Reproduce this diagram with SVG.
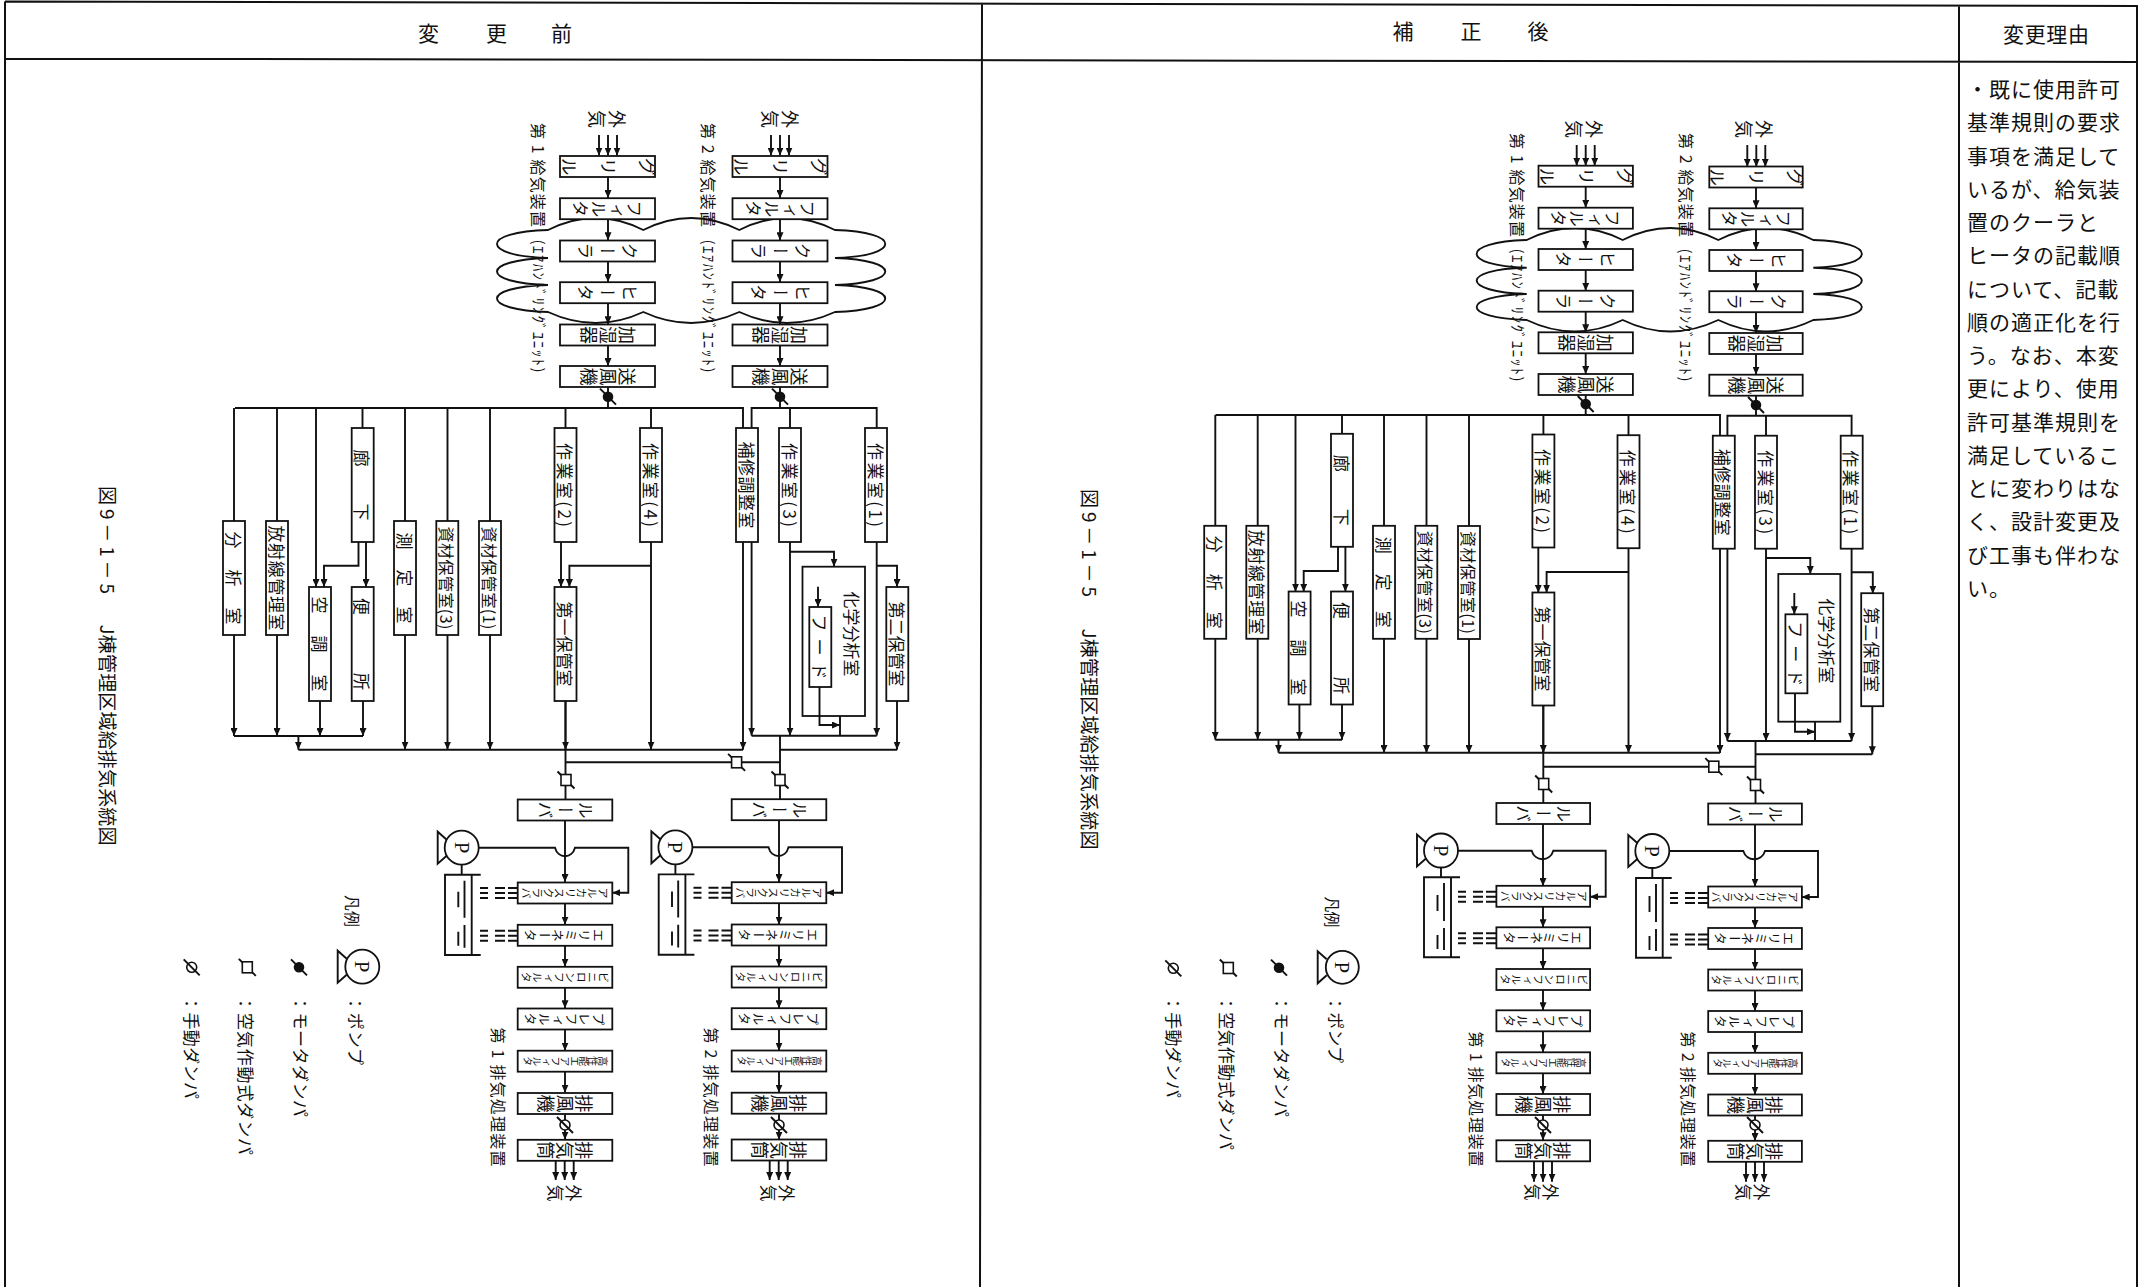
<svg xmlns="http://www.w3.org/2000/svg" width="2149" height="1287" viewBox="0 0 2149 1287">
<style>
text{font-family:"Noto Sans CJK JP","Noto Sans",sans-serif;fill:#111;dominant-baseline:central;text-anchor:middle}
.v{writing-mode:vertical-rl;dominant-baseline:auto}
.s{text-anchor:start}
.b{fill:#fff;stroke:#111;stroke-width:1.8}
.o{fill:none;stroke:#111;stroke-width:1.8}
.l,.a{fill:none;stroke:#111;stroke-width:1.9}
.a{marker-end:url(#ah)}
.f{fill:none;stroke:#111;stroke-width:2}
.t10{font-size:10px}.t11{font-size:11px}.t13{font-size:13px}.t15{font-size:15px}.t16{font-size:16px}.t17{font-size:17px}.t18{font-size:18px}.t19{font-size:19px}.t21{font-size:21px}
.p{font-family:"Liberation Serif",serif;font-size:21px}
.d{fill:none;stroke:#111;stroke-width:2}
.k{fill:#fff;stroke:#111;stroke-width:1.6}
.n{fill:#111;stroke:#111;stroke-width:1.6}
</style>
<defs>
<marker id="ah" markerUnits="userSpaceOnUse" markerWidth="8" markerHeight="7" refX="8" refY="3.5" orient="auto"><path d="M0 0L8 3.5L0 7z" fill="#111"/></marker>
<path id="dd" class="d" d="M0 0h8m7 0h10m3 0h10M0 5h8m7 0h10m3 0h10M0 10h8m7 0h10m3 0h10"/>
<g id="hd"><circle class="k" r="5"/><path class="l" d="M-8-8L8 8"/></g>
<g id="md"><circle class="n" r="4.5"/><path class="l" d="M-8-8L8 8"/></g>
<g id="ad"><path class="l" d="M-8.500-8.500L8.500 8.500"/><rect class="k" x="-5" y="-5.500" width="10" height="11"/></g>
<path id="pt" class="l" d="M9 -8L0 -16V16L9 8"/>
</defs>
<rect width="2149" height="1287" fill="#fff"/>

<g id="frame">
<path class="f" d="M5 1.500L2137 6V1287M5 1.500V1287M982 3L980 1287M1959 5V1287M5 58.700L2137 62"/>
<text class="t21" x="428.500" y="32">変</text><text class="t21" x="496.500" y="32">更</text><text class="t21" x="561.500" y="32">前</text>
<text class="t21" x="1403" y="30">補</text><text class="t21" x="1471" y="30">正</text><text class="t21" x="1538" y="30">後</text>
<text class="t21" x="2046" y="33" textLength="86">変更理由</text>
</g>

<g id="reason" font-size="21">
<text class="s t21" letter-spacing="1" x="1967" y="88">・既に使用許可</text>
<text class="s t21" letter-spacing="1" x="1967" y="121">基準規則の要求</text>
<text class="s t21" letter-spacing="1" x="1967" y="154.500">事項を満足して</text>
<text class="s t21" letter-spacing="1" x="1967" y="188">いるが、給気装</text>
<text class="s t21" letter-spacing="1" x="1967" y="221">置のクーラと</text>
<text class="s t21" letter-spacing="1" x="1967" y="254">ヒータの記載順</text>
<text class="s t21" letter-spacing="1" x="1967" y="287.500">について、記載</text>
<text class="s t21" letter-spacing="1" x="1967" y="321">順の適正化を行</text>
<text class="s t21" letter-spacing="1" x="1967" y="354">う。なお、本変</text>
<text class="s t21" letter-spacing="1" x="1967" y="387">更により、使用</text>
<text class="s t21" letter-spacing="1" x="1967" y="420.500">許可基準規則を</text>
<text class="s t21" letter-spacing="1" x="1967" y="454">満足しているこ</text>
<text class="s t21" letter-spacing="1" x="1967" y="487">とに変わりはな</text>
<text class="s t21" letter-spacing="1" x="1967" y="520">く、設計変更及</text>
<text class="s t21" letter-spacing="1" x="1967" y="553.500">び工事も伴わな</text>
<text class="s t21" letter-spacing="1" x="1967" y="587">い。</text>
</g>

<g id="clouds">
<path class="l" d="M548 230Q596 206 643.300 230Q691 206 739.300 230Q787 206 835 230C902 232 902 256 835 258C902 260 902 283 835 285C902 287 902 310 835 312Q787 334 739.300 312Q691 334 643.300 312Q596 334 548 312C480 310 480 287 548 285C480 283 480 260 548 258C480 256 480 232 548 230Z"/>
<path class="l" d="M1526.700 240Q1575 216 1622.700 240Q1670 216 1718.300 240Q1766 216 1813.300 240C1878 242 1878 266 1813.300 267.700C1878 269 1878 292 1813.300 294C1878 296 1878 318 1813.300 320Q1766 343 1718.300 320Q1670 343 1622.700 320Q1575 343 1526.700 320C1460 318 1460 296 1526.700 294C1460 292 1460 269 1526.700 267.700C1460 266 1460 242 1526.700 240Z"/>
</g>

<g id="connectors">
<!-- panel 1 supply -->
<path class="a" d="M599 135V155.500"/><path class="a" d="M608 135V155.500"/><path class="a" d="M617 135V155.500"/>
<path class="a" d="M771 135V155.500"/><path class="a" d="M780 135V155.500"/><path class="a" d="M789 135V155.500"/>
<path class="a" d="M608 177V198"/><path class="a" d="M608 219V240.300"/><path class="a" d="M608 261.500V282"/><path class="a" d="M608 303V324.300"/><path class="a" d="M608 345.500V366"/>
<path class="a" d="M780 177V198"/><path class="a" d="M780 219V240.300"/><path class="a" d="M780 261.500V282"/><path class="a" d="M780 303V324.300"/><path class="a" d="M780 345.500V366"/>
<path class="l" d="M608 387V408M780 387V408M235 408H743V428M751.600 428V408H876.700V428M234 408V521M277 408V521M362.500 408V428M405 408V521M447.500 408V521M490 408V521M565.500 408V428M651 408V428M790 408V428"/>
<path class="a" d="M316 408V587"/>
<path class="a" d="M234 635V736"/><path class="a" d="M277 635V736"/><path class="a" d="M320 701V736"/><path class="a" d="M363 701V736"/>
<path class="l" d="M234 736H363M298.400 749.700H743M780 749.700H897M751.600 735.700H876.700M780 735.700V799M565.500 701V799M565.500 762.300H780M840 716V735.700"/>
<path class="a" d="M298.400 736V749.700"/>
<path class="a" d="M405 635V749.700"/><path class="a" d="M447.500 635V749.700"/><path class="a" d="M490 635V749.700"/><path class="a" d="M651 542V749.700"/><path class="a" d="M743 542V749.700"/><path class="a" d="M565.500 701V749.700"/><path class="a" d="M897 701V749.700"/>
<path class="a" d="M751.600 542V735.700"/><path class="a" d="M790 542V735.700"/><path class="a" d="M876.700 542V735.700"/>
<path class="a" d="M819.500 687V725H840"/><path class="a" d="M790 551.700H834V566.700"/><path class="a" d="M818 586.700V607"/><path class="a" d="M876.700 565.700H897V587"/>
<path class="a" d="M358.500 542V565.700H324V587"/><path class="a" d="M366 542V587"/><path class="a" d="M561 542V587"/><path class="a" d="M651 565.700H569.400V587"/>
<path class="a" d="M565 820V882"/><path class="a" d="M565 904V924.700"/><path class="a" d="M565 946V966.700"/><path class="a" d="M565 988V1008.300"/><path class="a" d="M565 1029.700V1050.700"/><path class="a" d="M565 1071.700V1092.700"/><path class="a" d="M565 1114.300V1139.700"/>
<path class="a" d="M779 820V882"/><path class="a" d="M779 904V924.700"/><path class="a" d="M779 946V966.700"/><path class="a" d="M779 988V1008.300"/><path class="a" d="M779 1029.700V1050.700"/><path class="a" d="M779 1071.700V1092.700"/><path class="a" d="M779 1114.300V1139.700"/>
<path class="a" d="M555.700 1161V1180"/><path class="a" d="M564.700 1161V1180"/><path class="a" d="M573.700 1161V1180"/>
<path class="a" d="M769.700 1161V1180"/><path class="a" d="M778.700 1161V1180"/><path class="a" d="M787.700 1161V1180"/>
<path class="a" d="M478.700 847.700H555C558 859 572 859 575 847.700H628.300V892.700H612.300"/>
<path class="a" d="M692.300 847.300H768.500C771.500 859 785.500 859 788.500 847.300H842V892.700H826.300"/>
<path class="l" d="M461.700 864.700V874.700M480.700 874.700H445V955H480.700M471.700 874.700V955M464.500 880.700V917.700M458.300 891.700V907.300M464.500 925V947.700M458.300 931.700V945.700"/>
<path class="l" d="M675.400 864.700V874.400M694.400 874.400H658.700V954.700H694.400M685.400 874.400V954.700M678.200 880.400V917.400M672 891.400V907M678.200 924.700V947.400M672 931.400V945.400"/>
<use href="#dd" x="480" y="888"/><use href="#dd" x="480" y="930.700"/><use href="#dd" x="693.500" y="887.700"/><use href="#dd" x="693.500" y="930.400"/>
<use href="#md" x="608" y="396.700"/><use href="#md" x="780" y="396.700"/>
<use href="#ad" x="736.600" y="762.300"/><use href="#ad" x="566" y="780"/><use href="#ad" x="780" y="780"/>
<use href="#hd" x="565" y="1125"/><use href="#hd" x="779" y="1125"/>
<!-- panel 2 supply -->
<path class="a" d="M1576.700 145V165.700"/><path class="a" d="M1585.700 145V165.700"/><path class="a" d="M1594.700 145V165.700"/>
<path class="a" d="M1747.300 145V166.700"/><path class="a" d="M1756.300 145V166.700"/><path class="a" d="M1765.300 145V166.700"/>
<path class="a" d="M1585.700 186.700V207.700"/><path class="a" d="M1585.700 228.700V249"/><path class="a" d="M1585.700 270V290.700"/><path class="a" d="M1585.700 311.700V332.300"/><path class="a" d="M1585.700 353.300V374"/>
<path class="a" d="M1756 187.500V208.300"/><path class="a" d="M1756 229.300V250"/><path class="a" d="M1756 271V291.300"/><path class="a" d="M1756 312.200V333"/><path class="a" d="M1756 354V374.700"/>
<path class="l" d="M1585.700 395V415M1756 395.700V415.700M1215.500 415H1720V436M1727.400 436V415.700H1851.600V436M1215.300 415V526M1257.700 415V526M1342 415V434M1384 415V526M1426.500 415V526M1469 415V526M1543.400 415V435M1628.500 415V435.700M1766 415.700V436"/>
<path class="a" d="M1295.500 415V591.700"/>
<path class="a" d="M1215.300 638.700V739.700"/><path class="a" d="M1257.700 638.700V739.700"/><path class="a" d="M1299.400 704.300V739.700"/><path class="a" d="M1342 704.300V739.700"/>
<path class="l" d="M1215.300 739.700H1342M1278.500 752.700H1720M1755.500 754.300H1872.300M1727.400 741H1851.600M1755.500 741V803M1543.300 705V803M1543.300 766.700H1755.500M1815 721.700V741"/>
<path class="a" d="M1278.500 739.700V752.700"/>
<path class="a" d="M1384 638.700V753"/><path class="a" d="M1426.500 638.700V753"/><path class="a" d="M1469 638.700V753"/><path class="a" d="M1628.500 547.700V753"/><path class="a" d="M1720 548V753"/><path class="a" d="M1543.300 705V753"/><path class="a" d="M1872.300 705.700V754.300"/>
<path class="a" d="M1727.400 548V741"/><path class="a" d="M1766 548V741"/><path class="a" d="M1851.600 548V741"/>
<path class="a" d="M1795 693.300V731.700H1815"/><path class="a" d="M1766 558H1810.300V574"/><path class="a" d="M1794.300 593V614.300"/><path class="a" d="M1851.600 572.300H1872.800V593.700"/>
<path class="a" d="M1338 546.300V571H1303.700V591.700"/><path class="a" d="M1345.400 546.300V591.700"/><path class="a" d="M1538.300 547V592.700"/><path class="a" d="M1628.500 572H1546.600V592.700"/>
<path class="a" d="M1543 824V886"/><path class="a" d="M1543 906.700V927.300"/><path class="a" d="M1543 948.300V969"/><path class="a" d="M1543 990V1010.300"/><path class="a" d="M1543 1031.300V1052.300"/><path class="a" d="M1543 1073.300V1094"/><path class="a" d="M1543 1115V1140.300"/>
<path class="a" d="M1755 824.500V886.700"/><path class="a" d="M1755 907.500V928"/><path class="a" d="M1755 949V969.700"/><path class="a" d="M1755 990.700V1011"/><path class="a" d="M1755 1032V1053"/><path class="a" d="M1755 1074V1094.500"/><path class="a" d="M1755 1115.500V1141"/>
<path class="a" d="M1534 1161.300V1181.700"/><path class="a" d="M1543 1161.300V1181.700"/><path class="a" d="M1552 1161.300V1181.700"/>
<path class="a" d="M1746 1161.800V1181.700"/><path class="a" d="M1755 1161.800V1181.700"/><path class="a" d="M1764 1161.800V1181.700"/>
<path class="a" d="M1457.700 850.700H1531.700C1535 862 1550 862 1553.300 850.700H1605.700V896.700H1590"/>
<path class="a" d="M1669 851H1743.300C1746.500 862 1761.800 862 1765 851H1818V897H1801.700"/>
<path class="l" d="M1441 867V877.300M1460 877.300H1424V957.300H1460M1451 877.300V957.300M1444 883V921M1437.500 895V911M1444 928V950M1437.500 935V949"/>
<path class="l" d="M1652.300 867.300V878M1671.700 878H1636V957.700H1671.700M1662.700 878V957.700M1656 884V922M1649.500 896V912M1656 929V951M1649.500 936V950"/>
<use href="#dd" x="1458" y="891.700"/><use href="#dd" x="1458" y="933.300"/><use href="#dd" x="1670" y="893"/><use href="#dd" x="1670" y="934.500"/>
<use href="#md" x="1585.700" y="404"/><use href="#md" x="1756" y="405"/>
<use href="#ad" x="1713.800" y="766.700"/><use href="#ad" x="1543.700" y="784"/><use href="#ad" x="1755.500" y="785"/>
<use href="#hd" x="1543" y="1125"/><use href="#hd" x="1755" y="1125"/>
</g>

<g id="pumps">
<g transform="translate(461.700,847.700)"><use href="#pt" x="-24"/><circle class="b" r="17"/><text class="p" transform="rotate(90)">P</text></g>
<g transform="translate(675.400,847.300)"><use href="#pt" x="-24"/><circle class="b" r="17"/><text class="p" transform="rotate(90)">P</text></g>
<g transform="translate(1441,850.500)"><use href="#pt" x="-24"/><circle class="b" r="17"/><text class="p" transform="rotate(90)">P</text></g>
<g transform="translate(1652.300,851)"><use href="#pt" x="-24"/><circle class="b" r="17"/><text class="p" transform="rotate(90)">P</text></g>
</g>

<g id="panel1-supply">
<g id="a1"><text class="v t18" transform="translate(607,119) rotate(90)" y="-10 10">外気</text></g>
<g id="a2"><text class="v t18" transform="translate(780,119) rotate(90)" y="-10 10">外気</text></g>
<g id="n1g" transform="translate(607.500,166.500)"><rect class="b" x="-47.500" y="-10.500" width="95" height="21"/><text class="v t18" transform="rotate(90)" x="0 0 0" y="-39 0 39">グリル</text></g>
<g id="n1f" transform="translate(607.500,208.700)"><rect class="b" x="-47.500" y="-10.500" width="95" height="21"/><text class="v t17" transform="rotate(90)" x="0 0 0 0" y="-27 -9 9 27">フィルタ</text></g>
<g id="n1c" transform="translate(607.500,251)"><rect class="b" x="-47.500" y="-10.500" width="95" height="21"/><text class="v t17" transform="rotate(90)" x="0 0 0" y="-22 0 22">クーラ</text></g>
<g id="n1h" transform="translate(607.500,292.700)"><rect class="b" x="-47.500" y="-10.500" width="95" height="21"/><text class="v t17" transform="rotate(90)" x="0 0 0" y="-22 0 22">ヒータ</text></g>
<g id="n1k" transform="translate(607.500,335)"><rect class="b" x="-47.500" y="-10.500" width="95" height="21"/><text class="v t18" transform="rotate(90)" x="0 0 0" y="-19 0 19">加湿器</text></g>
<g id="n1s" transform="translate(607.500,376.500)"><rect class="b" x="-47.500" y="-10.500" width="95" height="21"/><text class="v t18" transform="rotate(90)" x="0 0 0" y="-19 0 19">送風機</text></g>
<g id="n2g" transform="translate(780,166.500)"><rect class="b" x="-47.500" y="-10.500" width="95" height="21"/><text class="v t18" transform="rotate(90)" x="0 0 0" y="-39 0 39">グリル</text></g>
<g id="n2f" transform="translate(780,208.700)"><rect class="b" x="-47.500" y="-10.500" width="95" height="21"/><text class="v t17" transform="rotate(90)" x="0 0 0 0" y="-27 -9 9 27">フィルタ</text></g>
<g id="n2c" transform="translate(780,251)"><rect class="b" x="-47.500" y="-10.500" width="95" height="21"/><text class="v t17" transform="rotate(90)" x="0 0 0" y="-22 0 22">クーラ</text></g>
<g id="n2h" transform="translate(780,292.700)"><rect class="b" x="-47.500" y="-10.500" width="95" height="21"/><text class="v t17" transform="rotate(90)" x="0 0 0" y="-22 0 22">ヒータ</text></g>
<g id="n2k" transform="translate(780,335)"><rect class="b" x="-47.500" y="-10.500" width="95" height="21"/><text class="v t18" transform="rotate(90)" x="0 0 0" y="-19 0 19">加湿器</text></g>
<g id="n2s" transform="translate(780,376.500)"><rect class="b" x="-47.500" y="-10.500" width="95" height="21"/><text class="v t18" transform="rotate(90)" x="0 0 0" y="-19 0 19">送風機</text></g>
<text class="t16" transform="translate(539,175) rotate(90)" textLength="104">第 1 給気装置</text>
<text class="t15" transform="translate(539,306) rotate(90)" textLength="133">(ｴｱﾊﾝﾄﾞﾘﾝｸﾞﾕﾆｯﾄ)</text>
<text class="t16" transform="translate(709,175) rotate(90)" textLength="104">第 2 給気装置</text>
<text class="t15" transform="translate(709,306) rotate(90)" textLength="133">(ｴｱﾊﾝﾄﾞﾘﾝｸﾞﾕﾆｯﾄ)</text>
</g>

<g id="panel1-rooms">
<g id="r1" transform="translate(234,578)"><rect class="b" x="-11" y="-57" width="22" height="114"/><text class="t17" transform="rotate(90)" x="-38 0 38" y="0 0 0">分析室</text></g>
<g id="r2" transform="translate(277,578)"><rect class="b" x="-11" y="-57" width="22" height="114"/><text class="t17" transform="rotate(90)" textLength="105">放射線管理室</text></g>
<g id="r3" transform="translate(320,644)"><rect class="b" x="-11" y="-57" width="22" height="114"/><text class="t17" transform="rotate(90)" x="-39 0 39" y="0 0 0">空調室</text></g>
<g id="r4" transform="translate(362.700,485)"><rect class="b" x="-11" y="-57" width="22" height="114"/><text class="t17" transform="rotate(90)" x="-27 27" y="0 0">廊下</text></g>
<g id="r5" transform="translate(362.700,644)"><rect class="b" x="-11" y="-57" width="22" height="114"/><text class="t17" transform="rotate(90)" x="-37.500 37.500" y="0 0">便所</text></g>
<g id="r6" transform="translate(405,578)"><rect class="b" x="-11" y="-57" width="22" height="114"/><text class="t17" transform="rotate(90)" x="-37 0 37" y="0 0 0">測定室</text></g>
<g id="r7" transform="translate(447.300,578)"><rect class="b" x="-11" y="-57" width="22" height="114"/><text class="t16" transform="rotate(90)" textLength="103">資材保管室(3)</text></g>
<g id="r8" transform="translate(490,578)"><rect class="b" x="-11" y="-57" width="22" height="114"/><text class="t16" transform="rotate(90)" textLength="103">資材保管室(1)</text></g>
<g id="r9" transform="translate(565.500,485)"><rect class="b" x="-11" y="-57" width="22" height="114"/><text class="t17" transform="rotate(90)" textLength="84">作業室(2)</text></g>
<g id="r10" transform="translate(565.500,644)"><rect class="b" x="-11" y="-57" width="22" height="114"/><text class="t17" transform="rotate(90)" textLength="85">第一保管室</text></g>
<g id="r11" transform="translate(651,485)"><rect class="b" x="-11" y="-57" width="22" height="114"/><text class="t17" transform="rotate(90)" textLength="84">作業室(4)</text></g>
<g id="r12" transform="translate(747,485)"><rect class="b" x="-11" y="-57" width="22" height="114"/><text class="t17" transform="rotate(90)" textLength="87">補修調整室</text></g>
<g id="r13" transform="translate(790,485)"><rect class="b" x="-11" y="-57" width="22" height="114"/><text class="t17" transform="rotate(90)" textLength="84">作業室(3)</text></g>
<g id="r14" transform="translate(876,485)"><rect class="b" x="-11" y="-57" width="22" height="114"/><text class="t17" transform="rotate(90)" textLength="84">作業室(1)</text></g>
<g id="r15" transform="translate(897.300,644)"><rect class="b" x="-11" y="-57" width="22" height="114"/><text class="t17" transform="rotate(90)" textLength="85">第二保管室</text></g>
<g id="r16"><rect class="o" x="802.500" y="566.700" width="62.500" height="149.300"/><text class="t17" transform="translate(852,634) rotate(90)" textLength="85">化学分析室</text></g>
<g id="r17" transform="translate(820.300,647)"><rect class="b" x="-11" y="-40" width="22" height="80"/><text class="t17" transform="rotate(90)" textLength="65">フード</text></g>
</g>

<g id="panel1-exhaust">
<g id="e1a" transform="translate(565,810)"><rect class="b" x="-47.300" y="-10.500" width="94.600" height="21"/><text class="v t17" transform="rotate(90)" x="0 0 0" y="-20 0 20">ルーバ</text></g>
<g id="e1b" transform="translate(565,893)"><rect class="b" x="-47.300" y="-10.500" width="94.600" height="21"/><text class="v t11" transform="rotate(90)" x="0 0 0 0 0 0 0 0" y="-38.500 -27.500 -16.500 -5.500 5.500 16.500 27.500 38.500">アルカリスクラバ</text></g>
<g id="e1c" transform="translate(565,935.300)"><rect class="b" x="-47.300" y="-10.500" width="94.600" height="21"/><text class="v t13" transform="rotate(90)" x="0 0 0 0 0 0" y="-33.750 -20.250 -6.750 6.750 20.250 33.750">エリミネータ</text></g>
<g id="e1d" transform="translate(565,977.300)"><rect class="b" x="-47.300" y="-10.500" width="94.600" height="21"/><text class="v t11" transform="rotate(90)" x="0 0 0 0 0 0 0 0" y="-38.500 -27.500 -16.500 -5.500 5.500 16.500 27.500 38.500">ビニロンフィルタ</text></g>
<g id="e1e" transform="translate(565,1019)"><rect class="b" x="-47.300" y="-10.500" width="94.600" height="21"/><text class="v t13" transform="rotate(90)" x="0 0 0 0 0 0" y="-33.750 -20.250 -6.750 6.750 20.250 33.750">プレフィルタ</text></g>
<g id="e1f" transform="translate(565,1061.200)"><rect class="b" x="-47.300" y="-10.500" width="94.600" height="21"/><text class="v t10" transform="rotate(90)" x="0 0 0 0 0 0 0 0 0" y="-37.600 -28.200 -18.800 -9.400 0 9.400 18.800 28.200 37.600">高性能エアフィルタ</text></g>
<g id="e1g" transform="translate(565,1103.500)"><rect class="b" x="-47.300" y="-10.500" width="94.600" height="21"/><text class="v t18" transform="rotate(90)" x="0 0 0" y="-19 0 19">排風機</text></g>
<g id="e1h" transform="translate(565,1150.300)"><rect class="b" x="-47.300" y="-10.500" width="94.600" height="21"/><text class="v t18" transform="rotate(90)" x="0 0 0" y="-19 0 19">排気筒</text></g>
<g id="e2a" transform="translate(779,809.700)"><rect class="b" x="-47.300" y="-10.500" width="94.600" height="21"/><text class="v t17" transform="rotate(90)" x="0 0 0" y="-20 0 20">ルーバ</text></g>
<g id="e2b" transform="translate(779,892.700)"><rect class="b" x="-47.300" y="-10.500" width="94.600" height="21"/><text class="v t11" transform="rotate(90)" x="0 0 0 0 0 0 0 0" y="-38.500 -27.500 -16.500 -5.500 5.500 16.500 27.500 38.500">アルカリスクラバ</text></g>
<g id="e2c" transform="translate(779,935)"><rect class="b" x="-47.300" y="-10.500" width="94.600" height="21"/><text class="v t13" transform="rotate(90)" x="0 0 0 0 0 0" y="-33.750 -20.250 -6.750 6.750 20.250 33.750">エリミネータ</text></g>
<g id="e2d" transform="translate(779,977)"><rect class="b" x="-47.300" y="-10.500" width="94.600" height="21"/><text class="v t11" transform="rotate(90)" x="0 0 0 0 0 0 0 0" y="-38.500 -27.500 -16.500 -5.500 5.500 16.500 27.500 38.500">ビニロンフィルタ</text></g>
<g id="e2e" transform="translate(779,1018.700)"><rect class="b" x="-47.300" y="-10.500" width="94.600" height="21"/><text class="v t13" transform="rotate(90)" x="0 0 0 0 0 0" y="-33.750 -20.250 -6.750 6.750 20.250 33.750">プレフィルタ</text></g>
<g id="e2f" transform="translate(779,1061)"><rect class="b" x="-47.300" y="-10.500" width="94.600" height="21"/><text class="v t10" transform="rotate(90)" x="0 0 0 0 0 0 0 0 0" y="-37.600 -28.200 -18.800 -9.400 0 9.400 18.800 28.200 37.600">高性能エアフィルタ</text></g>
<g id="e2g" transform="translate(779,1103.200)"><rect class="b" x="-47.300" y="-10.500" width="94.600" height="21"/><text class="v t18" transform="rotate(90)" x="0 0 0" y="-19 0 19">排風機</text></g>
<g id="e2h" transform="translate(779,1150)"><rect class="b" x="-47.300" y="-10.500" width="94.600" height="21"/><text class="v t18" transform="rotate(90)" x="0 0 0" y="-19 0 19">排気筒</text></g>
<text class="t16" transform="translate(499,1097) rotate(90)" textLength="139">第 1 排気処理装置</text>
<text class="t16" transform="translate(711.700,1097) rotate(90)" textLength="139">第 2 排気処理装置</text>
<text class="v t17" transform="translate(564,1193) rotate(90)" y="-9 9">外気</text>
<text class="v t17" transform="translate(777,1193) rotate(90)" y="-9 9">外気</text>
</g>

<g id="panel1-legend">
<text class="t19" transform="translate(108,540) rotate(90)" textLength="108">図 9 － 1 － 5</text>
<text class="t19" transform="translate(108,735) rotate(90)" textLength="221">J棟管理区域給排気系統図</text>
<text class="t16" transform="translate(353,911) rotate(90)" textLength="32">凡例</text>
<g transform="translate(362.300,966.700)"><use href="#pt" x="-24.600"/><circle class="b" r="17"/><text class="p" transform="rotate(90)">P</text></g>
<use href="#md" x="299" y="967.300"/><use href="#ad" x="247.300" y="967.300"/><use href="#hd" x="191.700" y="967.300"/>
<text class="s t17" transform="translate(356.700,995) rotate(90)" textLength="70">：ポンプ</text>
<text class="s t17" transform="translate(301.700,995) rotate(90)" textLength="122">：モータダンパ</text>
<text class="s t17" transform="translate(246.700,995) rotate(90)" textLength="160">：空気作動式ダンパ</text>
<text class="s t17" transform="translate(192.700,995) rotate(90)" textLength="104">：手動ダンパ</text>
</g>

<g id="panel2-supply">
<text class="v t18" transform="translate(1584,129) rotate(90)" y="-10 10">外気</text>
<text class="v t18" transform="translate(1754,129) rotate(90)" y="-10 10">外気</text>
<g id="m1g" transform="translate(1585.500,176.200)"><rect class="b" x="-47" y="-10.500" width="94.400" height="21"/><text class="v t18" transform="rotate(90)" x="0 0 0" y="-39 0 39">グリル</text></g>
<g id="m1f" transform="translate(1585.500,218.200)"><rect class="b" x="-47" y="-10.500" width="94.400" height="21"/><text class="v t17" transform="rotate(90)" x="0 0 0 0" y="-27 -9 9 27">フィルタ</text></g>
<g id="m1h" transform="translate(1585.500,259.500)"><rect class="b" x="-47" y="-10.500" width="94.400" height="21"/><text class="v t17" transform="rotate(90)" x="0 0 0" y="-22 0 22">ヒータ</text></g>
<g id="m1c" transform="translate(1585.500,301.200)"><rect class="b" x="-47" y="-10.500" width="94.400" height="21"/><text class="v t17" transform="rotate(90)" x="0 0 0" y="-22 0 22">クーラ</text></g>
<g id="m1k" transform="translate(1585.500,342.800)"><rect class="b" x="-47" y="-10.500" width="94.400" height="21"/><text class="v t18" transform="rotate(90)" x="0 0 0" y="-19 0 19">加湿器</text></g>
<g id="m1s" transform="translate(1585.500,384.500)"><rect class="b" x="-47" y="-10.500" width="94.400" height="21"/><text class="v t18" transform="rotate(90)" x="0 0 0" y="-19 0 19">送風機</text></g>
<g id="m2g" transform="translate(1756,177)"><rect class="b" x="-46.700" y="-10.500" width="93.400" height="21"/><text class="v t18" transform="rotate(90)" x="0 0 0" y="-39 0 39">グリル</text></g>
<g id="m2f" transform="translate(1756,218.800)"><rect class="b" x="-46.700" y="-10.500" width="93.400" height="21"/><text class="v t17" transform="rotate(90)" x="0 0 0 0" y="-27 -9 9 27">フィルタ</text></g>
<g id="m2h" transform="translate(1756,260.500)"><rect class="b" x="-46.700" y="-10.500" width="93.400" height="21"/><text class="v t17" transform="rotate(90)" x="0 0 0" y="-22 0 22">ヒータ</text></g>
<g id="m2c" transform="translate(1756,301.700)"><rect class="b" x="-46.700" y="-10.500" width="93.400" height="21"/><text class="v t17" transform="rotate(90)" x="0 0 0" y="-22 0 22">クーラ</text></g>
<g id="m2k" transform="translate(1756,343.500)"><rect class="b" x="-46.700" y="-10.500" width="93.400" height="21"/><text class="v t18" transform="rotate(90)" x="0 0 0" y="-19 0 19">加湿器</text></g>
<g id="m2s" transform="translate(1756,385.200)"><rect class="b" x="-46.700" y="-10.500" width="93.400" height="21"/><text class="v t18" transform="rotate(90)" x="0 0 0" y="-19 0 19">送風機</text></g>
<text class="t16" transform="translate(1518,185) rotate(90)" textLength="104">第 1 給気装置</text>
<text class="t15" transform="translate(1518,315) rotate(90)" textLength="133">(ｴｱﾊﾝﾄﾞﾘﾝｸﾞﾕﾆｯﾄ)</text>
<text class="t16" transform="translate(1686.700,185) rotate(90)" textLength="104">第 2 給気装置</text>
<text class="t15" transform="translate(1686.700,315) rotate(90)" textLength="133">(ｴｱﾊﾝﾄﾞﾘﾝｸﾞﾕﾆｯﾄ)</text>
</g>

<g id="panel2-rooms">
<g id="s1" transform="translate(1215.200,582.300)"><rect class="b" x="-11" y="-56.500" width="22" height="113"/><text class="t17" transform="rotate(90)" x="-38 0 38" y="0 0 0">分析室</text></g>
<g id="s2" transform="translate(1257.300,582.300)"><rect class="b" x="-11" y="-56.500" width="22" height="113"/><text class="t17" transform="rotate(90)" textLength="105">放射線管理室</text></g>
<g id="s3" transform="translate(1299.600,648)"><rect class="b" x="-11" y="-56.500" width="22" height="113"/><text class="t17" transform="rotate(90)" x="-39 0 39" y="0 0 0">空調室</text></g>
<g id="s4" transform="translate(1342,490.300)"><rect class="b" x="-11" y="-56.500" width="22" height="113"/><text class="t17" transform="rotate(90)" x="-27 27" y="0 0">廊下</text></g>
<g id="s5" transform="translate(1342,648)"><rect class="b" x="-11" y="-56.500" width="22" height="113"/><text class="t17" transform="rotate(90)" x="-37.500 37.500" y="0 0">便所</text></g>
<g id="s6" transform="translate(1384,582.300)"><rect class="b" x="-11" y="-56.500" width="22" height="113"/><text class="t17" transform="rotate(90)" x="-37 0 37" y="0 0 0">測定室</text></g>
<g id="s7" transform="translate(1426.300,582.300)"><rect class="b" x="-11" y="-56.500" width="22" height="113"/><text class="t16" transform="rotate(90)" textLength="103">資材保管室(3)</text></g>
<g id="s8" transform="translate(1469,582.500)"><rect class="b" x="-11" y="-56.500" width="22" height="113"/><text class="t16" transform="rotate(90)" textLength="103">資材保管室(1)</text></g>
<g id="s9" transform="translate(1543.400,491)"><rect class="b" x="-11" y="-56.500" width="22" height="113"/><text class="t17" transform="rotate(90)" textLength="84">作業室(2)</text></g>
<g id="s10" transform="translate(1543.400,649)"><rect class="b" x="-11" y="-56.500" width="22" height="113"/><text class="t17" transform="rotate(90)" textLength="85">第一保管室</text></g>
<g id="s11" transform="translate(1628.500,491.700)"><rect class="b" x="-11" y="-56.500" width="22" height="113"/><text class="t17" transform="rotate(90)" textLength="84">作業室(4)</text></g>
<g id="s12" transform="translate(1723.800,492.200)"><rect class="b" x="-11" y="-56.500" width="22" height="113"/><text class="t17" transform="rotate(90)" textLength="87">補修調整室</text></g>
<g id="s13" transform="translate(1766,492.200)"><rect class="b" x="-11" y="-56.500" width="22" height="113"/><text class="t17" transform="rotate(90)" textLength="84">作業室(3)</text></g>
<g id="s14" transform="translate(1851.700,492.200)"><rect class="b" x="-11" y="-56.500" width="22" height="113"/><text class="t17" transform="rotate(90)" textLength="84">作業室(1)</text></g>
<g id="s15" transform="translate(1872.200,649.700)"><rect class="b" x="-11" y="-56.500" width="22" height="113"/><text class="t17" transform="rotate(90)" textLength="85">第二保管室</text></g>
<g id="s16"><rect class="o" x="1778.300" y="574" width="62" height="147.700"/><text class="t17" transform="translate(1827.700,641) rotate(90)" textLength="85">化学分析室</text></g>
<g id="s17" transform="translate(1796.400,653.800)"><rect class="b" x="-11" y="-39.500" width="22" height="79"/><text class="t17" transform="rotate(90)" textLength="65">フード</text></g>
</g>

<g id="panel2-exhaust">
<g id="f1a" transform="translate(1543.200,813.500)"><rect class="b" x="-46.800" y="-10.500" width="93.700" height="21"/><text class="v t17" transform="rotate(90)" x="0 0 0" y="-20 0 20">ルーバ</text></g>
<g id="f1b" transform="translate(1543.200,896.300)"><rect class="b" x="-46.800" y="-10.500" width="93.700" height="21"/><text class="v t11" transform="rotate(90)" x="0 0 0 0 0 0 0 0" y="-38.500 -27.500 -16.500 -5.500 5.500 16.500 27.500 38.500">アルカリスクラバ</text></g>
<g id="f1c" transform="translate(1543.200,937.800)"><rect class="b" x="-46.800" y="-10.500" width="93.700" height="21"/><text class="v t13" transform="rotate(90)" x="0 0 0 0 0 0" y="-33.750 -20.250 -6.750 6.750 20.250 33.750">エリミネータ</text></g>
<g id="f1d" transform="translate(1543.200,979.500)"><rect class="b" x="-46.800" y="-10.500" width="93.700" height="21"/><text class="v t11" transform="rotate(90)" x="0 0 0 0 0 0 0 0" y="-38.500 -27.500 -16.500 -5.500 5.500 16.500 27.500 38.500">ビニロンフィルタ</text></g>
<g id="f1e" transform="translate(1543.200,1020.800)"><rect class="b" x="-46.800" y="-10.500" width="93.700" height="21"/><text class="v t13" transform="rotate(90)" x="0 0 0 0 0 0" y="-33.750 -20.250 -6.750 6.750 20.250 33.750">プレフィルタ</text></g>
<g id="f1f" transform="translate(1543.200,1062.800)"><rect class="b" x="-46.800" y="-10.500" width="93.700" height="21"/><text class="v t10" transform="rotate(90)" x="0 0 0 0 0 0 0 0 0" y="-37.600 -28.200 -18.800 -9.400 0 9.400 18.800 28.200 37.600">高性能エアフィルタ</text></g>
<g id="f1g" transform="translate(1543.200,1104.500)"><rect class="b" x="-46.800" y="-10.500" width="93.700" height="21"/><text class="v t18" transform="rotate(90)" x="0 0 0" y="-19 0 19">排風機</text></g>
<g id="f1h" transform="translate(1543.200,1150.800)"><rect class="b" x="-46.800" y="-10.500" width="93.700" height="21"/><text class="v t18" transform="rotate(90)" x="0 0 0" y="-19 0 19">排気筒</text></g>
<g id="f2a" transform="translate(1755,814)"><rect class="b" x="-46.800" y="-10.500" width="93.700" height="21"/><text class="v t17" transform="rotate(90)" x="0 0 0" y="-20 0 20">ルーバ</text></g>
<g id="f2b" transform="translate(1755,897)"><rect class="b" x="-46.800" y="-10.500" width="93.700" height="21"/><text class="v t11" transform="rotate(90)" x="0 0 0 0 0 0 0 0" y="-38.500 -27.500 -16.500 -5.500 5.500 16.500 27.500 38.500">アルカリスクラバ</text></g>
<g id="f2c" transform="translate(1755,938.500)"><rect class="b" x="-46.800" y="-10.500" width="93.700" height="21"/><text class="v t13" transform="rotate(90)" x="0 0 0 0 0 0" y="-33.750 -20.250 -6.750 6.750 20.250 33.750">エリミネータ</text></g>
<g id="f2d" transform="translate(1755,980)"><rect class="b" x="-46.800" y="-10.500" width="93.700" height="21"/><text class="v t11" transform="rotate(90)" x="0 0 0 0 0 0 0 0" y="-38.500 -27.500 -16.500 -5.500 5.500 16.500 27.500 38.500">ビニロンフィルタ</text></g>
<g id="f2e" transform="translate(1755,1021.500)"><rect class="b" x="-46.800" y="-10.500" width="93.700" height="21"/><text class="v t13" transform="rotate(90)" x="0 0 0 0 0 0" y="-33.750 -20.250 -6.750 6.750 20.250 33.750">プレフィルタ</text></g>
<g id="f2f" transform="translate(1755,1063.300)"><rect class="b" x="-46.800" y="-10.500" width="93.700" height="21"/><text class="v t10" transform="rotate(90)" x="0 0 0 0 0 0 0 0 0" y="-37.600 -28.200 -18.800 -9.400 0 9.400 18.800 28.200 37.600">高性能エアフィルタ</text></g>
<g id="f2g" transform="translate(1755,1105)"><rect class="b" x="-46.800" y="-10.500" width="93.700" height="21"/><text class="v t18" transform="rotate(90)" x="0 0 0" y="-19 0 19">排風機</text></g>
<g id="f2h" transform="translate(1755,1151.300)"><rect class="b" x="-46.800" y="-10.500" width="93.700" height="21"/><text class="v t18" transform="rotate(90)" x="0 0 0" y="-19 0 19">排気筒</text></g>
<text class="t16" transform="translate(1477.300,1099) rotate(90)" textLength="135">第 1 排気処理装置</text>
<text class="t16" transform="translate(1689,1099) rotate(90)" textLength="135">第 2 排気処理装置</text>
<text class="v t17" transform="translate(1541,1192) rotate(90)" y="-9 9">外気</text>
<text class="v t17" transform="translate(1752,1192) rotate(90)" y="-9 9">外気</text>
</g>

<g id="panel2-legend">
<text class="t19" transform="translate(1090,543) rotate(90)" textLength="108">図 9 － 1 － 5</text>
<text class="t19" transform="translate(1090,739) rotate(90)" textLength="221">J棟管理区域給排気系統図</text>
<text class="t16" transform="translate(1333.300,912) rotate(90)" textLength="31">凡例</text>
<g transform="translate(1342.300,967.300)"><use href="#pt" x="-24.600"/><circle class="b" r="16.500"/><text class="p" transform="rotate(90)">P</text></g>
<use href="#md" x="1279" y="967.700"/><use href="#ad" x="1228.300" y="968"/><use href="#hd" x="1173.300" y="968.300"/>
<text class="s t17" transform="translate(1336.700,995) rotate(90)" textLength="68">：ポンプ</text>
<text class="s t17" transform="translate(1282.300,995) rotate(90)" textLength="122">：モータダンパ</text>
<text class="s t17" transform="translate(1227.300,995) rotate(90)" textLength="155">：空気作動式ダンパ</text>
<text class="s t17" transform="translate(1174,995) rotate(90)" textLength="103">：手動ダンパ</text>
</g>
</svg>
